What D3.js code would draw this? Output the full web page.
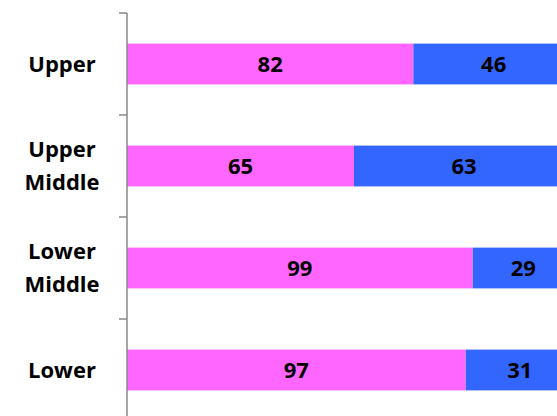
<!DOCTYPE html>
<html>
<head>
<meta charset="utf-8">
<script src="https://cdn.jsdelivr.net/npm/d3@7"></script>
<style>
  body { margin: 0; background: #fff; }
  text { font-family: "Open Sans", sans-serif; font-weight: bold; fill: #000; }
</style>
</head>
<body>
<div id="chart"></div>
<script>
// set dimensions
var width = 557;
var height = 416;

// data
var categories = [["Upper"], ["Upper", "Middle"], ["Lower", "Middle"], ["Lower"]];
var catKeys = ["Upper", "Upper Middle", "Lower Middle", "Lower"];
var pinkValues = [82, 65, 99, 97];
var blueValues = [46, 63, 29, 31];

var colors = ["#ff66ff", "#3366ff"];

var svg = d3.select("#chart")
  .append("svg")
    .attr("width", width)
    .attr("height", height);

// the bars run past the right edge, like the original crop
var x = d3.scaleLinear()
  .domain([0, 128])
  .range([127, 574]);

var y = d3.scaleBand()
  .domain(catKeys)
  .range([13, 421])
  .paddingInner(0.6)
  .paddingOuter(0.3);

var rows = catKeys.map(function(k, i) {
  return { key: k, pink: pinkValues[i], blue: blueValues[i] };
});

var series = d3.stack().keys(["pink", "blue"])(rows);

svg.selectAll("g.series")
  .data(series)
  .enter()
  .append("g")
    .attr("class", "series")
    .attr("fill", function(d, i) { return colors[i]; })
  .selectAll("rect")
  .data(function(d) { return d; })
  .enter()
  .append("rect")
    .attr("x", function(d) { return x(d[0]); })
    .attr("width", function(d) { return x(d[1]) - x(d[0]); })
    .attr("y", function(d) { return y(d.data.key); })
    .attr("height", y.bandwidth());

// value labels
series.forEach(function(s) {
  svg.selectAll(null)
    .data(s)
    .enter()
    .append("text")
      .attr("x", function(d) { return (x(d[0]) + x(d[1])) / 2; })
      .attr("y", function(d) { return y(d.data.key) + y.bandwidth() / 2; })
      .attr("dy", "0.36em")
      .attr("text-anchor", "middle")
      .style("font-size", "22px")
      .text(function(d) { return d[1] - d[0]; });
});

// category axis line
svg.append("line")
  .attr("x1", 127).attr("x2", 127)
  .attr("y1", y.range()[0]).attr("y2", y.range()[1])
  .attr("stroke", "#888")
  .attr("stroke-width", 1.5);

// ticks between categories
svg.selectAll("line.tick")
  .data(d3.range(catKeys.length + 1))
  .enter()
  .append("line")
    .attr("class", "tick")
    .attr("x1", 119)
    .attr("x2", 127)
    .attr("y1", function(i) { return y.range()[0] + i * y.step(); })
    .attr("y2", function(i) { return y.range()[0] + i * y.step(); })
    .attr("stroke", "#888")
    .attr("stroke-width", 1.5);

// category labels
var labels = svg.selectAll("text.cat")
  .data(categories)
  .enter()
  .append("text")
    .attr("class", "cat")
    .attr("text-anchor", "middle")
    .style("font-size", "22px")
    .attr("transform", function(d, i) {
      return "translate(62," + (y(catKeys[i]) + y.bandwidth() / 2) + ")";
    });

labels.selectAll("tspan")
  .data(function(d) { return d; })
  .enter()
  .append("tspan")
    .attr("x", 0)
    .attr("y", function(d, i, nodes) { return (i - (nodes.length - 1) / 2) * 33; })
    .attr("dy", "0.36em")
    .text(function(d) { return d; });
</script>
</body>
</html>
